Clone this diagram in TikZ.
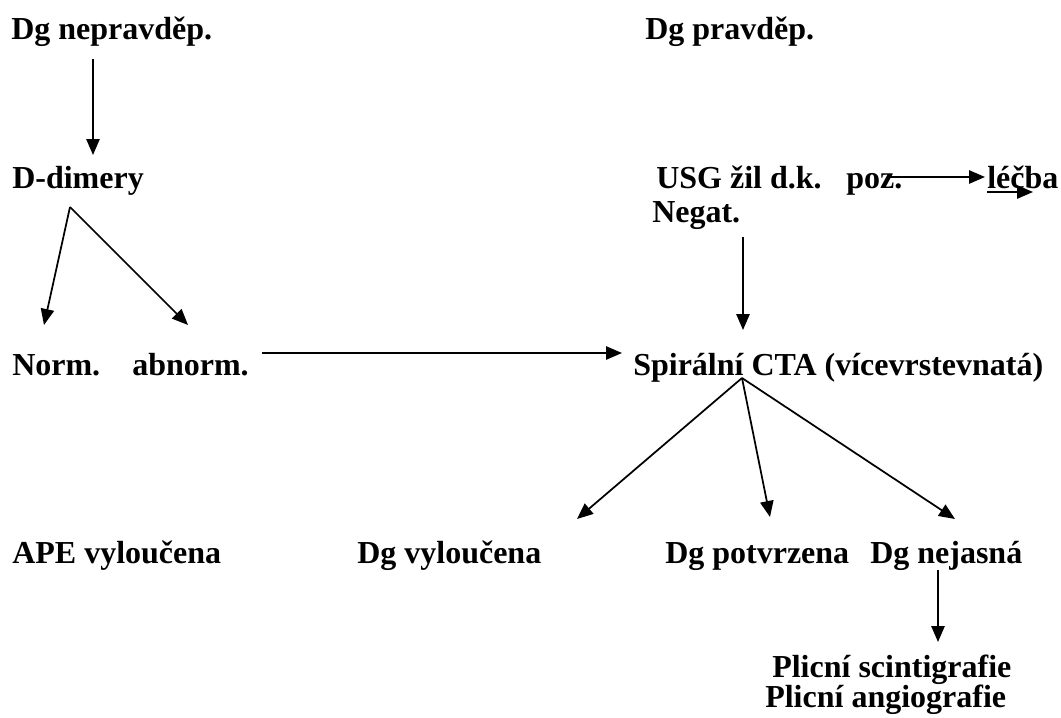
\documentclass[tikz,border=0pt]{standalone}
\usepackage{fontspec}
\setmainfont{Liberation Serif}
\usetikzlibrary{arrows.meta}
\begin{document}
\begin{tikzpicture}[x=0.75pt,y=-0.75pt,
  lbl/.style={anchor=base west, inner sep=0pt, font=\bfseries\fontsize{24}{28}\selectfont},
  arr/.style={-{Triangle[length=12pt,width=10pt]}, line width=1.3pt}]
\useasboundingbox (0,0) rectangle (1061,718);
% texts
\node[lbl] (dgn) at (11,39) {Dg nepravděp.};
\node[lbl] (dgp) at (645,39) {Dg pravděp.};
\node[lbl] (ddim) at (12,188) {D-dimery};
\node[lbl] (usg) at (656,188) {USG žil d.k.};
\node[lbl] (poz) at (846,188) {poz.};
\node[lbl] (lecba) at (987,188) {léčba};
\node[lbl] (negat) at (652,222) {Negat.};
\node[lbl] (norm) at (12,375) {Norm.};
\node[lbl] (abnorm) at (132,375) {abnorm.};
\node[lbl] (cta) at (633,375) {Spirální CTA (vícevrstevnatá)};
\node[lbl] (ape) at (12,563) {APE vyloučena};
\node[lbl] (dgv) at (357,563) {Dg vyloučena};
\node[lbl] (dgpot) at (665,563) {Dg potvrzena};
\node[lbl] (dgnej) at (870,563) {Dg nejasná};
\node[lbl] (scint) at (772,677) {Plicní scintigrafie};
\node[lbl] (angio) at (765,707) {Plicní angiografie};
% connector end points
\coordinate (a1s) at (93,59);   \coordinate (a1e) at (93,155);
\coordinate (vtop) at (70,207); \coordinate (vl) at (44,325); \coordinate (vr) at (188,325);
\coordinate (hs) at (262,353);  \coordinate (he) at (622,353);
\coordinate (ns) at (743,237);  \coordinate (ne) at (743,330);
\coordinate (ps) at (890,177);  \coordinate (pe) at (985,177);
\coordinate (ls) at (987,192);  \coordinate (le) at (1033,192);
\coordinate (ftop) at (742,378);
\coordinate (fl) at (577,519); \coordinate (fm) at (770,517); \coordinate (fr) at (955,519);
\coordinate (js) at (938,570);  \coordinate (je) at (938,642);
% connectors
\draw[arr] (a1s) -- (a1e);
\draw[arr] (vtop) -- (vl);
\draw[arr] (vtop) -- (vr);
\draw[arr] (hs) -- (he);
\draw[arr] (ns) -- (ne);
\draw[arr] (ps) -- (pe);
\draw[arr] (ls) -- (le);
\draw[arr] (ftop) -- (fl);
\draw[arr] (ftop) -- (fm);
\draw[arr] (ftop) -- (fr);
\draw[arr] (js) -- (je);
\end{tikzpicture}
\end{document}
